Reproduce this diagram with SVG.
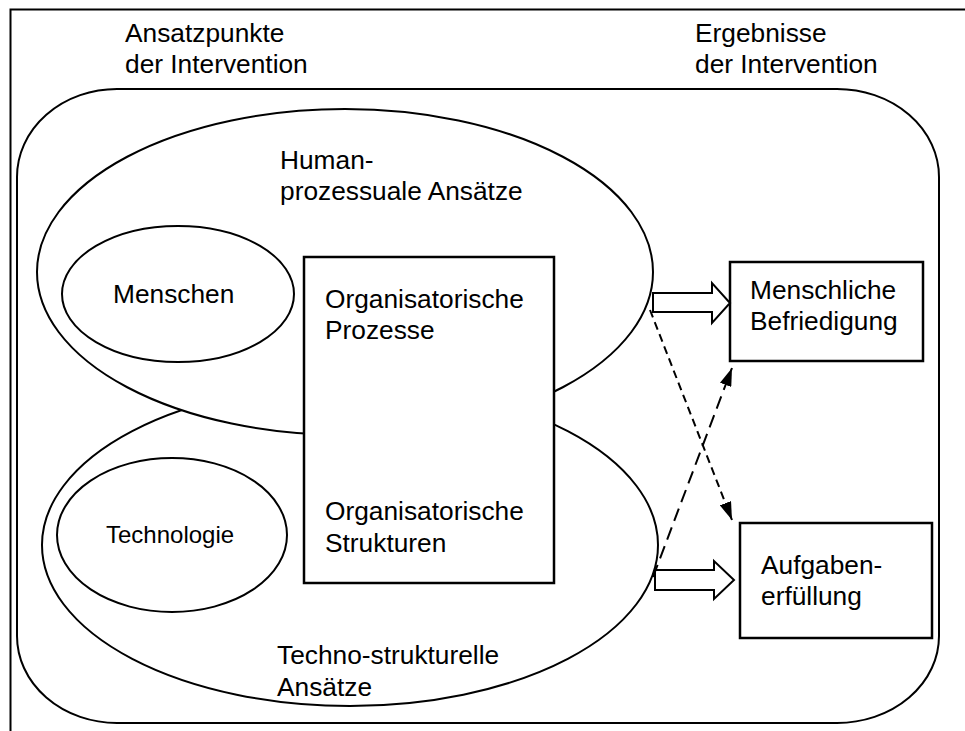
<svg xmlns="http://www.w3.org/2000/svg" width="965" height="731" viewBox="0 0 965 731">
  <style>
    .bg { fill: #ffffff; }
    .frame { fill: none; stroke: #000; stroke-width: 2; }
    .shape { fill: #ffffff; stroke: #000; stroke-width: 2; }
    .box { fill: #ffffff; stroke: #000; stroke-width: 2.5; }
    .block { fill: #ffffff; stroke: #000; stroke-width: 2; stroke-linejoin: miter; }
    .dash1 { fill: none; stroke: #000; stroke-width: 2; stroke-dasharray: 8 5; }
    .dash2 { fill: none; stroke: #000; stroke-width: 2; stroke-dasharray: 13 7; }
    text { font-family: "Liberation Sans", Arial, sans-serif; font-size: 26.3px; fill: #000; }
    .small { font-size: 24px; }
  </style>
  <defs>
    <marker id="head" viewBox="0 0 18 12" markerWidth="18" markerHeight="12" refX="18" refY="6" orient="auto" markerUnits="userSpaceOnUse">
      <path d="M0,0 L18,6 L0,12 Z" fill="#000"/>
    </marker>
  </defs>

  <rect class="bg" x="0" y="0" width="965" height="731"/>
  <!-- page frame -->
  <path class="frame" d="M10.5,731 L10.5,9.5 L965,9.5"/>

  <!-- column headings -->
  <g id="heading-left">
    <text x="125" y="42">Ansatzpunkte</text>
    <text x="125" y="73">der Intervention</text>
  </g>
  <g id="heading-right">
    <text x="695" y="42">Ergebnisse</text>
    <text x="695" y="73">der Intervention</text>
  </g>

  <!-- enclosing rounded area -->
  <path id="container" class="frame" d="M117,89 L837,89 A102,88 0 0 1 939,177 L939,636 A102,87 0 0 1 837,723 L117,723 A100,87 0 0 1 17,636 L17,177 A100,88 0 0 1 117,89 Z"/>

  <g id="techno-strukturell">
    <ellipse class="shape" cx="350" cy="545" rx="308" ry="161"/>
    <text x="277" y="664">Techno-strukturelle</text>
    <text x="277" y="696">Ansätze</text>
  </g>

  <g id="human-prozessual">
    <ellipse class="shape" cx="345" cy="272" rx="308" ry="163"/>
    <text x="280" y="169">Human-</text>
    <text x="280" y="200">prozessuale Ansätze</text>
  </g>

  <g id="menschen">
    <ellipse class="shape" cx="178" cy="294" rx="116" ry="68"/>
    <text x="113" y="303">Menschen</text>
  </g>

  <g id="technologie">
    <ellipse class="shape" cx="172" cy="535" rx="115" ry="77"/>
    <text class="small" x="106" y="543">Technologie</text>
  </g>

  <g id="organisation">
    <rect class="box" x="304" y="257" width="250" height="326"/>
    <text x="325" y="308">Organisatorische</text>
    <text x="325" y="339">Prozesse</text>
    <text x="325" y="520">Organisatorische</text>
    <text x="325" y="552">Strukturen</text>
  </g>

  <g id="befriedigung">
    <rect class="box" x="730" y="262" width="193" height="99"/>
    <text x="750" y="299">Menschliche</text>
    <text x="750" y="330">Befriedigung</text>
  </g>

  <g id="aufgabenerfuellung">
    <rect class="box" x="740" y="523" width="192" height="115"/>
    <text x="761" y="574">Aufgaben-</text>
    <text x="761" y="605">erfüllung</text>
  </g>

  <!-- connectors -->
  <g id="connectors">
    <polygon class="block" points="653,293 712,293 712,283 730,303 712,323 712,312 653,312"/>
    <polygon class="block" points="655,570 714,570 714,561 734,580 714,599 714,590 655,590"/>
    <line class="dash1" x1="650" y1="310" x2="732" y2="520" marker-end="url(#head)"/>
    <line class="dash2" x1="653" y1="577" x2="732" y2="368" marker-end="url(#head)"/>
  </g>
</svg>
